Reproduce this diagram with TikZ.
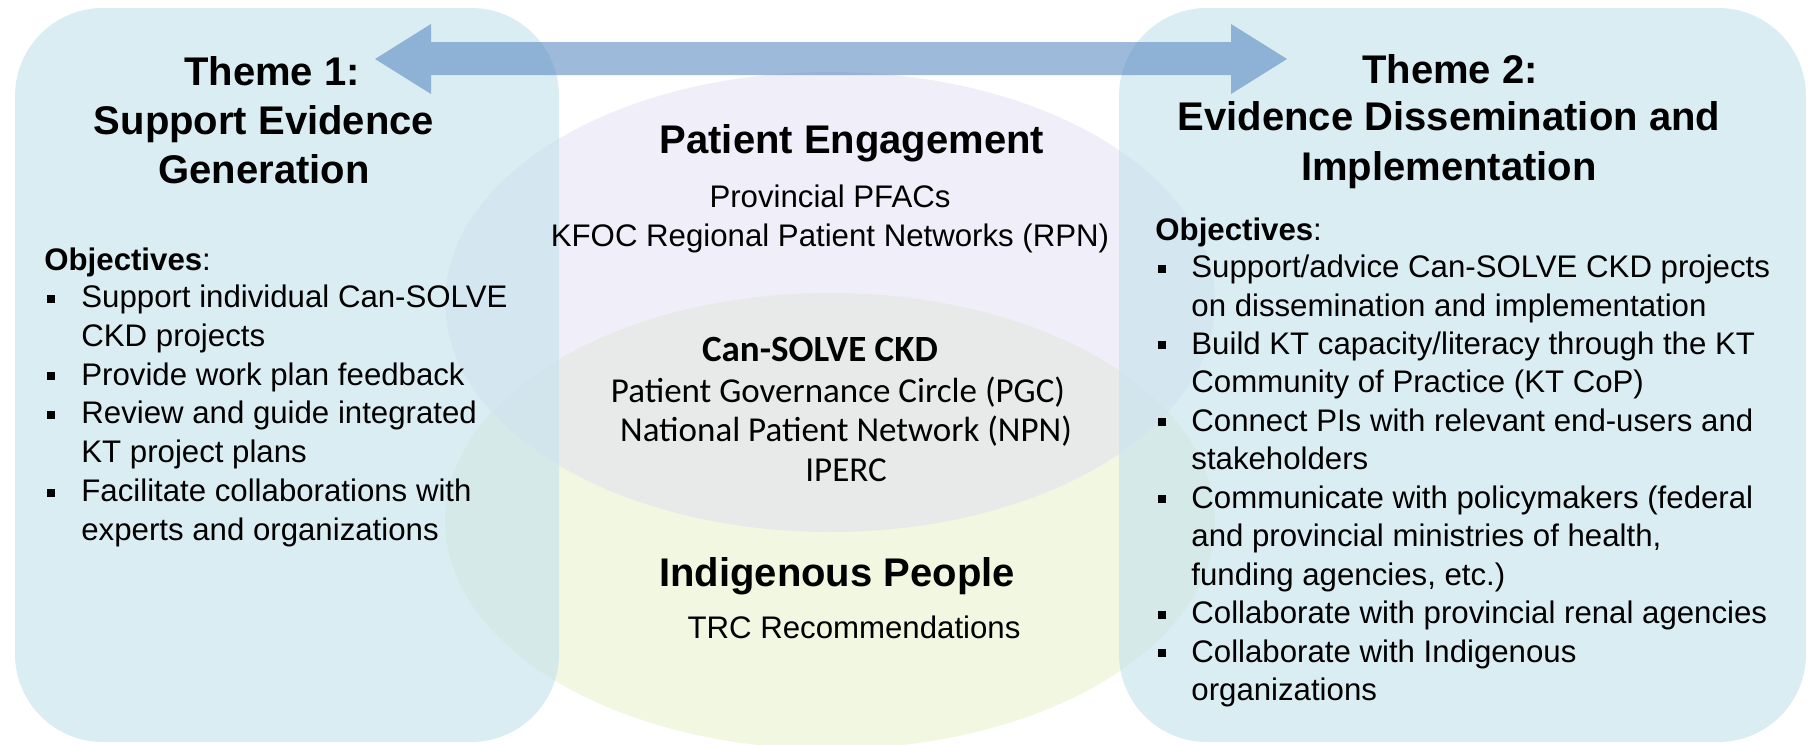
\documentclass[tikz,border=0pt]{standalone}
\usepackage{fontspec}
\setmainfont{Liberation Sans}
\newfontfamily\carl{Carlito}
\definecolor{boxc}{HTML}{C8E4ED}
\definecolor{purp}{HTML}{E1DDF3}
\definecolor{yell}{HTML}{E3EFC1}
\definecolor{arrc}{HTML}{4F81BD}
\tikzset{
  body/.style={font=\fontsize{15.6pt}{19pt}\selectfont, anchor=base west, inner sep=0pt},
  ctr/.style={font=\fontsize{15.6pt}{19pt}\selectfont, anchor=base, inner sep=0pt},
  ttl/.style={font=\fontsize{20pt}{24pt}\selectfont\bfseries, anchor=base, inner sep=0pt},
  cal/.style={font=\carl\fontsize{17.5pt}{21pt}\selectfont, anchor=base, inner sep=0pt},
  calb/.style={font=\carl\fontsize{18.5pt}{22pt}\selectfont\bfseries, anchor=base, inner sep=0pt},
  bul/.style={rectangle, fill=black, minimum size=4pt, inner sep=0pt},
  themebox/.style={fill=boxc, fill opacity=0.67, rounded corners=44pt},
  venn/.style={fill opacity=0.5}
}
\begin{document}
\begin{tikzpicture}[x=0.5pt,y=-0.5pt]
\useasboundingbox (0,0) rectangle (1808,744);
% Venn ellipses
\fill[yell, venn] (830,521) ellipse [x radius=192.5pt, y radius=114pt];
\fill[purp, venn] (830,302) ellipse [x radius=192.5pt, y radius=115pt];
% theme boxes
\fill[themebox] (15,8) rectangle (559,742);
\fill[themebox] (1119,8) rectangle (1806,742);
% double arrow
\fill[arrc, fill opacity=0.55] (375,59) -- (431,24) -- (431,42) -- (1231,42) -- (1231,24)
  -- (1287,59) -- (1231,94) -- (1231,75) -- (431,75) -- (431,94) -- cycle;

% Theme 1
\node[ttl] (t1a) at (272,85) {Theme 1:};
\node[ttl] (t1b) at (264,134) {Support Evidence};
\node[ttl] (t1c) at (264,183) {Generation};
\node[body] (o1) at (44,270) {\textbf{Objectives}:};
\node[body] (l1) at (81,307.5) {Support individual Can-SOLVE};
\node[body] (l2) at (81,346.3) {CKD projects};
\node[body] (l3) at (81,385.1) {Provide work plan feedback};
\node[body] (l4) at (81,423.9) {Review and guide integrated};
\node[body] (l5) at (81,462.7) {KT project plans};
\node[body] (l6) at (81,501.5) {Facilitate collaborations with};
\node[body] (l7) at (81,540.3) {experts and organizations};
\node[bul] (lb1) at (51,298.5) {};
\node[bul] (lb3) at (51,376.1) {};
\node[bul] (lb4) at (51,414.9) {};
\node[bul] (lb6) at (51,492.5) {};

% Theme 2
\node[ttl] (t2a) at (1450,83) {Theme 2:};
\node[ttl] (t2b) at (1449,130.5) {Evidence Dissemination and};
\node[ttl] (t2c) at (1449,180) {Implementation};
\node[body] (o2) at (1155,240) {\textbf{Objectives}:};
\node[body] (r1) at (1191,277.5) {Support/advice Can-SOLVE CKD projects};
\node[body] (r2) at (1191,316.0) {on dissemination and implementation};
\node[body] (r3) at (1191,354.4) {Build KT capacity/literacy through the KT};
\node[body] (r4) at (1191,392.9) {Community of Practice (KT CoP)};
\node[body] (r5) at (1191,431.4) {Connect PIs with relevant end-users and};
\node[body] (r6) at (1191,469.9) {stakeholders};
\node[body] (r7) at (1191,508.3) {Communicate with policymakers (federal};
\node[body] (r8) at (1191,546.8) {and provincial ministries of health,};
\node[body] (r9) at (1191,585.3) {funding agencies, etc.)};
\node[body] (r10) at (1191,623.7) {Collaborate with provincial renal agencies};
\node[body] (r11) at (1191,662.2) {Collaborate with Indigenous};
\node[body] (r12) at (1191,700.7) {organizations};
\node[bul] (rb1) at (1162,268.5) {};
\node[bul] (rb3) at (1162,345.4) {};
\node[bul] (rb5) at (1162,422.4) {};
\node[bul] (rb7) at (1162,499.3) {};
\node[bul] (rb10) at (1162,614.7) {};
\node[bul] (rb11) at (1162,653.2) {};

% Centre
\node[ttl] (pe) at (852,153.5) {Patient Engagement};
\node[ctr] (pf) at (830,207) {Provincial PFACs};
\node[ctr] (kf) at (830,246.4) {KFOC Regional Patient Networks (RPN)};
\node[calb] (cs) at (820,361) {Can-SOLVE CKD};
\node[cal] (pg) at (838,402) {Patient Governance Circle (PGC)};
\node[cal] (np) at (846,441) {National Patient Network (NPN)};
\node[cal] (ip) at (846,481) {IPERC};
\node[ttl] (ind) at (837,586) {Indigenous People};
\node[ctr] (trc) at (854,638.5) {TRC Recommendations};
\end{tikzpicture}
\end{document}
